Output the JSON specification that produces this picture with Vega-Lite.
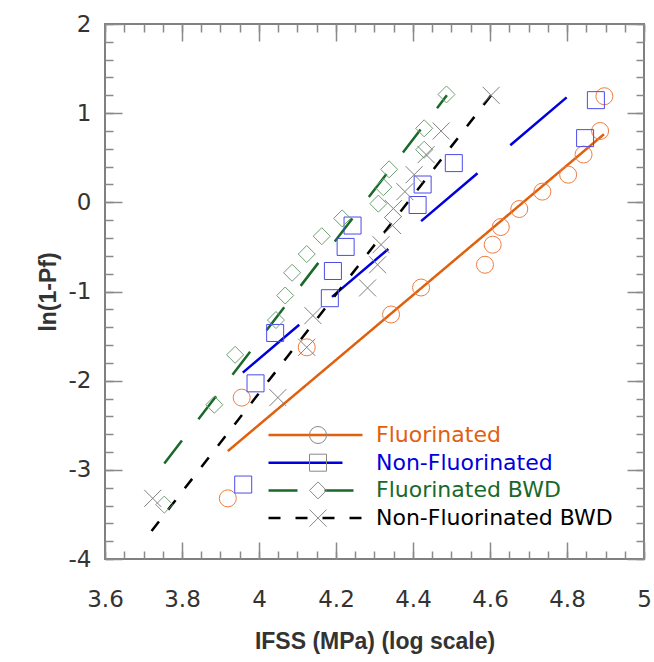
{
  "$schema": "https://vega.github.io/schema/vega-lite/v6.json",
  "width": 539,
  "height": 535,
  "autosize": "none",
  "padding": {"left": 105, "top": 24, "right": 10, "bottom": 103},
  "background": "white",
  "config": {
    "view": {"stroke": "#808080", "strokeWidth": 2},
    "axis": {"grid": false, "domain": false}
  },
  "datasets": {
    "fits": [
      {"series": "Fluorinated", "x": 3.919, "y": -2.79},
      {"series": "Fluorinated", "x": 4.896, "y": 0.764},
      {"series": "Non-Fluorinated", "x": 3.958, "y": -1.91},
      {"series": "Non-Fluorinated", "x": 4.8, "y": 1.18},
      {"series": "Fluorinated BWD", "x": 3.754, "y": -2.93},
      {"series": "Fluorinated BWD", "x": 4.488, "y": 1.2},
      {"series": "Non-Fluorinated BWD", "x": 3.721, "y": -3.685},
      {"series": "Non-Fluorinated BWD", "x": 4.603, "y": 1.2}
    ],
    "points": [
      {"group": "Fluorinated", "x": 4.897, "y": 1.19},
      {"group": "Fluorinated", "x": 4.886, "y": 0.8},
      {"group": "Fluorinated", "x": 4.843, "y": 0.536},
      {"group": "Fluorinated", "x": 4.803, "y": 0.31},
      {"group": "Fluorinated", "x": 4.736, "y": 0.12},
      {"group": "Fluorinated", "x": 4.676, "y": -0.075},
      {"group": "Fluorinated", "x": 4.628, "y": -0.277},
      {"group": "Fluorinated", "x": 4.607, "y": -0.475},
      {"group": "Fluorinated", "x": 4.587, "y": -0.7},
      {"group": "Fluorinated", "x": 4.421, "y": -0.955},
      {"group": "Fluorinated", "x": 4.343, "y": -1.258},
      {"group": "Fluorinated", "x": 4.124, "y": -1.626},
      {"group": "Fluorinated", "x": 3.955, "y": -2.19},
      {"group": "Fluorinated", "x": 3.919, "y": -3.32},
      {"group": "Non-Fluorinated", "x": 4.875, "y": 1.146},
      {"group": "Non-Fluorinated", "x": 4.847, "y": 0.72},
      {"group": "Non-Fluorinated", "x": 4.506, "y": 0.44},
      {"group": "Non-Fluorinated", "x": 4.425, "y": 0.2},
      {"group": "Non-Fluorinated", "x": 4.412, "y": -0.03},
      {"group": "Non-Fluorinated", "x": 4.243, "y": -0.26},
      {"group": "Non-Fluorinated", "x": 4.225, "y": -0.5},
      {"group": "Non-Fluorinated", "x": 4.192, "y": -0.77},
      {"group": "Non-Fluorinated", "x": 4.184, "y": -1.075},
      {"group": "Non-Fluorinated", "x": 4.042, "y": -1.465},
      {"group": "Non-Fluorinated", "x": 3.991, "y": -2.03},
      {"group": "Non-Fluorinated", "x": 3.959, "y": -3.165},
      {"group": "Fluorinated BWD", "x": 4.487, "y": 1.21},
      {"group": "Fluorinated BWD", "x": 4.429, "y": 0.83},
      {"group": "Fluorinated BWD", "x": 4.429, "y": 0.59},
      {"group": "Fluorinated BWD", "x": 4.338, "y": 0.37},
      {"group": "Fluorinated BWD", "x": 4.323, "y": 0.17},
      {"group": "Fluorinated BWD", "x": 4.31, "y": -0.015},
      {"group": "Fluorinated BWD", "x": 4.216, "y": -0.18},
      {"group": "Fluorinated BWD", "x": 4.163, "y": -0.38},
      {"group": "Fluorinated BWD", "x": 4.124, "y": -0.58},
      {"group": "Fluorinated BWD", "x": 4.086, "y": -0.79},
      {"group": "Fluorinated BWD", "x": 4.068, "y": -1.045},
      {"group": "Fluorinated BWD", "x": 4.044, "y": -1.32},
      {"group": "Fluorinated BWD", "x": 3.938, "y": -1.71},
      {"group": "Fluorinated BWD", "x": 3.884, "y": -2.27},
      {"group": "Fluorinated BWD", "x": 3.754, "y": -3.39},
      {"group": "Non-Fluorinated BWD", "x": 4.603, "y": 1.2},
      {"group": "Non-Fluorinated BWD", "x": 4.473, "y": 0.8},
      {"group": "Non-Fluorinated BWD", "x": 4.434, "y": 0.535},
      {"group": "Non-Fluorinated BWD", "x": 4.403, "y": 0.31},
      {"group": "Non-Fluorinated BWD", "x": 4.379, "y": 0.12},
      {"group": "Non-Fluorinated BWD", "x": 4.349, "y": -0.07},
      {"group": "Non-Fluorinated BWD", "x": 4.347, "y": -0.26},
      {"group": "Non-Fluorinated BWD", "x": 4.317, "y": -0.475},
      {"group": "Non-Fluorinated BWD", "x": 4.308, "y": -0.7},
      {"group": "Non-Fluorinated BWD", "x": 4.282, "y": -0.96},
      {"group": "Non-Fluorinated BWD", "x": 4.14, "y": -1.27},
      {"group": "Non-Fluorinated BWD", "x": 4.124, "y": -1.626},
      {"group": "Non-Fluorinated BWD", "x": 4.049, "y": -2.19},
      {"group": "Non-Fluorinated BWD", "x": 3.724, "y": -3.32}
    ]
  },
  "resolve": {"axis": {"x": "independent", "y": "independent"}},
  "layer": [
    {
      "data": {"name": "fits"},
      "transform": [{"filter": "datum.series === 'Fluorinated'"}],
      "mark": {"type": "line", "strokeWidth": 2.5},
      "encoding": {
        "x": {"field": "x", "type": "quantitative", "scale": {"domain": [3.6, 5], "nice": false, "zero": false},
          "axis": {"orient": "bottom", "values": [3.6, 3.8, 4, 4.2, 4.4, 4.6, 4.8, 5], "ticks": false, "labelExpr": "'' + datum.value", "labelPadding": 29, "labelFont": "DejaVu Sans", "labelFontSize": 23, "labelColor": "#333333", "labelFlush": false, "labelOverlap": false,
            "title": "IFSS (MPa) (log scale)", "titleFont": "Liberation Sans", "titleFontWeight": "bold", "titleFontSize": 23, "titleColor": "#333333", "titlePadding": 19}},
        "y": {"field": "y", "type": "quantitative", "scale": {"domain": [-4, 2], "nice": false, "zero": false},
          "axis": {"orient": "left", "values": [-4, -3, -2, -1, 0, 1, 2], "ticks": false, "labelExpr": "'' + datum.value", "labelPadding": 14, "labelFont": "DejaVu Sans", "labelFontSize": 23, "labelColor": "#333333", "labelFlush": false, "labelOverlap": false,
            "title": "ln(1-Pf)", "titleFont": "Liberation Sans", "titleFontWeight": "bold", "titleFontSize": 23, "titleColor": "#333333", "titlePadding": 8}},
        "color": {"field": "series", "type": "nominal",
          "scale": {"domain": ["Fluorinated", "Non-Fluorinated", "Fluorinated BWD", "Non-Fluorinated BWD"], "range": ["#e0600e", "#0000dd", "#19692a", "#000000"]},
          "legend": {"orient": "none", "legendX": 162, "legendY": 401, "title": null, "symbolType": "stroke", "symbolSize": 8836, "symbolStrokeWidth": 2.5, "clipHeight": 20, "rowPadding": 5.7, "labelOffset": 12, "labelFont": "DejaVu Sans", "labelFontSize": 22, "labelLimit": 400, "padding": 0,
            "encode": {"labels": {"update": {"fill": {"scale": "color", "field": "value"}}}}}},
        "strokeDash": {"field": "series", "type": "nominal",
          "scale": {"domain": ["Fluorinated", "Non-Fluorinated", "Fluorinated BWD", "Non-Fluorinated BWD"], "range": [[1, 0], [74, 43], [29, 27], [12, 15]]},
          "legend": {"orient": "none", "legendX": 162, "legendY": 401, "title": null, "symbolType": "stroke", "symbolSize": 8836, "symbolStrokeWidth": 2.5, "clipHeight": 20, "rowPadding": 5.7, "labelOffset": 12, "labelFont": "DejaVu Sans", "labelFontSize": 22, "labelLimit": 400, "padding": 0,
            "encode": {"labels": {"update": {"fill": {"scale": "color", "field": "value"}}}}}}
      }
    },
    {
      "data": {"name": "fits"},
      "transform": [{"filter": "datum.series === 'Non-Fluorinated'"}],
      "mark": {"type": "line", "strokeWidth": 2.5},
      "encoding": {
        "x": {"field": "x", "type": "quantitative", "scale": {"domain": [3.6, 5], "nice": false, "zero": false},
          "axis": {"orient": "bottom", "values": [3.6, 3.8, 4, 4.2, 4.4, 4.6, 4.8, 5], "labels": false, "ticks": true, "tickSize": -17, "tickWidth": 1.5, "tickColor": "#8a8a8a", "title": null}},
        "y": {"field": "y", "type": "quantitative", "scale": {"domain": [-4, 2], "nice": false, "zero": false},
          "axis": {"orient": "left", "values": [-4, -3, -2, -1, 0, 1, 2], "labels": false, "ticks": true, "tickSize": -17, "tickWidth": 1.5, "tickColor": "#8a8a8a", "title": null}},
        "color": {"field": "series", "type": "nominal", "scale": {"domain": ["Fluorinated", "Non-Fluorinated", "Fluorinated BWD", "Non-Fluorinated BWD"], "range": ["#e0600e", "#0000dd", "#19692a", "#000000"]}},
        "strokeDash": {"field": "series", "type": "nominal", "scale": {"domain": ["Fluorinated", "Non-Fluorinated", "Fluorinated BWD", "Non-Fluorinated BWD"], "range": [[1, 0], [74, 43], [29, 27], [12, 15]]}}
      }
    },
    {
      "data": {"name": "fits"},
      "transform": [{"filter": "datum.series === 'Fluorinated BWD'"}],
      "mark": {"type": "line", "strokeWidth": 2.5},
      "encoding": {
        "x": {"field": "x", "type": "quantitative", "scale": {"domain": [3.6, 5], "nice": false, "zero": false},
          "axis": {"orient": "bottom", "values": [3.6, 3.65, 3.7, 3.75, 3.8, 3.85, 3.9, 3.95, 4, 4.05, 4.1, 4.15, 4.2, 4.25, 4.3, 4.35, 4.4, 4.45, 4.5, 4.55, 4.6, 4.65, 4.7, 4.75, 4.8, 4.85, 4.9, 4.95, 5], "labels": false, "ticks": true, "tickSize": -8, "tickWidth": 1.5, "tickColor": "#8a8a8a", "title": null}},
        "y": {"field": "y", "type": "quantitative", "scale": {"domain": [-4, 2], "nice": false, "zero": false},
          "axis": {"orient": "left", "values": [-4, -3.8, -3.6, -3.4, -3.2, -3, -2.8, -2.6, -2.4, -2.2, -2, -1.8, -1.6, -1.4, -1.2, -1, -0.8, -0.6, -0.4, -0.2, 0, 0.2, 0.4, 0.6, 0.8, 1, 1.2, 1.4, 1.6, 1.8, 2], "labels": false, "ticks": true, "tickSize": -8, "tickWidth": 1.5, "tickColor": "#8a8a8a", "title": null}},
        "color": {"field": "series", "type": "nominal", "scale": {"domain": ["Fluorinated", "Non-Fluorinated", "Fluorinated BWD", "Non-Fluorinated BWD"], "range": ["#e0600e", "#0000dd", "#19692a", "#000000"]}},
        "strokeDash": {"field": "series", "type": "nominal", "scale": {"domain": ["Fluorinated", "Non-Fluorinated", "Fluorinated BWD", "Non-Fluorinated BWD"], "range": [[1, 0], [74, 43], [29, 27], [12, 15]]}}
      }
    },
    {
      "data": {"name": "fits"},
      "transform": [{"filter": "datum.series === 'Non-Fluorinated BWD'"}],
      "mark": {"type": "line", "strokeWidth": 2.5},
      "encoding": {
        "x": {"field": "x", "type": "quantitative", "scale": {"domain": [3.6, 5], "nice": false, "zero": false},
          "axis": {"orient": "top", "values": [3.6, 3.8, 4, 4.2, 4.4, 4.6, 4.8, 5], "labels": false, "ticks": true, "tickSize": -17, "tickWidth": 1.5, "tickColor": "#8a8a8a", "title": null}},
        "y": {"field": "y", "type": "quantitative", "scale": {"domain": [-4, 2], "nice": false, "zero": false},
          "axis": {"orient": "right", "values": [-4, -3, -2, -1, 0, 1, 2], "labels": false, "ticks": true, "tickSize": -17, "tickWidth": 1.5, "tickColor": "#8a8a8a", "title": null}},
        "color": {"field": "series", "type": "nominal", "scale": {"domain": ["Fluorinated", "Non-Fluorinated", "Fluorinated BWD", "Non-Fluorinated BWD"], "range": ["#e0600e", "#0000dd", "#19692a", "#000000"]}},
        "strokeDash": {"field": "series", "type": "nominal", "scale": {"domain": ["Fluorinated", "Non-Fluorinated", "Fluorinated BWD", "Non-Fluorinated BWD"], "range": [[1, 0], [74, 43], [29, 27], [12, 15]]}}
      }
    },
    {
      "data": {"name": "points"},
      "mark": {"type": "point", "filled": false, "strokeWidth": 1, "size": 289, "opacity": 1},
      "encoding": {
        "x": {"field": "x", "type": "quantitative", "scale": {"domain": [3.6, 5], "nice": false, "zero": false},
          "axis": {"orient": "top", "values": [3.6, 3.65, 3.7, 3.75, 3.8, 3.85, 3.9, 3.95, 4, 4.05, 4.1, 4.15, 4.2, 4.25, 4.3, 4.35, 4.4, 4.45, 4.5, 4.55, 4.6, 4.65, 4.7, 4.75, 4.8, 4.85, 4.9, 4.95, 5], "labels": false, "ticks": true, "tickSize": -8, "tickWidth": 1.5, "tickColor": "#8a8a8a", "title": null}},
        "y": {"field": "y", "type": "quantitative", "scale": {"domain": [-4, 2], "nice": false, "zero": false},
          "axis": {"orient": "right", "values": [-4, -3.8, -3.6, -3.4, -3.2, -3, -2.8, -2.6, -2.4, -2.2, -2, -1.8, -1.6, -1.4, -1.2, -1, -0.8, -0.6, -0.4, -0.2, 0, 0.2, 0.4, 0.6, 0.8, 1, 1.2, 1.4, 1.6, 1.8, 2], "labels": false, "ticks": true, "tickSize": -8, "tickWidth": 1.5, "tickColor": "#8a8a8a", "title": null}},
        "shape": {"field": "group", "type": "nominal", "sort": ["Fluorinated", "Non-Fluorinated", "Fluorinated BWD", "Non-Fluorinated BWD"],
          "scale": {"range": ["circle", "square", "diamond", "M-1,-1L1,1M-1,1L1,-1"]},
          "legend": {"orient": "none", "legendX": 202, "legendY": 401, "title": null, "clipHeight": 20, "rowPadding": 5.7, "labelExpr": "''", "labelFontSize": 22, "symbolStrokeWidth": 1, "symbolSize": 289, "symbolFillColor": "transparent", "symbolOpacity": 1, "padding": 0,
            "encode": {"symbols": {"stroke": {"condition": [{"test": "datum.value === 'Fluorinated'", "value": "#ef7d40"}, {"test": "datum.value === 'Non-Fluorinated'", "value": "#4b4bea"}, {"test": "datum.value === 'Fluorinated BWD'", "value": "#6f9f74"}], "value": "#808080"}, "fill": {"value": "transparent"}}}}},
        "stroke": {"field": "group", "type": "nominal", "sort": ["Fluorinated", "Non-Fluorinated", "Fluorinated BWD", "Non-Fluorinated BWD"],
          "scale": {"range": ["#ef7d40", "#4b4bea", "#6f9f74", "#808080"]},
          "legend": null}
      }
    }
  ]
}
